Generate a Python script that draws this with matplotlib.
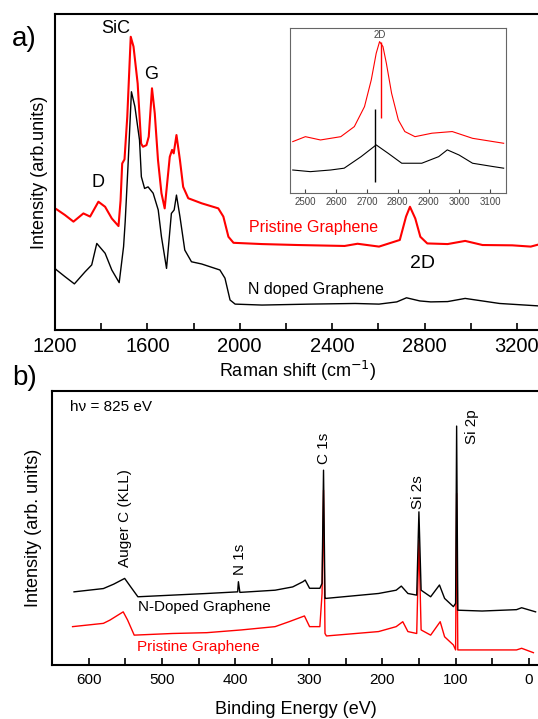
import matplotlib
matplotlib.use('Agg')
import matplotlib.pyplot as plt
from matplotlib.ticker import MultipleLocator

plt.rcParams['font.family'] = ['Liberation Sans', 'DejaVu Sans']

# a) Raman spectra (intensity in % of panel height)
raman_pg_x = [1200, 1207, 1243, 1280, 1323, 1352, 1388, 1417, 1446, 1475, 1484, 1491, 1501, 1513, 1528,
              1540, 1558, 1573, 1581, 1596, 1606, 1620, 1632, 1646, 1661, 1675, 1697, 1707, 1714, 1726,
              1741, 1755, 1777, 1835, 1907, 1929, 1951, 1973, 2096, 2250, 2454, 2510, 2603, 2693, 2720,
              2737, 2760, 2782, 2812, 2900, 2976, 3051, 3180, 3260, 3301]
raman_pg_y = [38.5, 38.2, 36.4, 34.3, 36.9, 35.9, 40.6, 39.0, 35.3, 32.9, 41.0, 52.7, 54.0, 67.5, 92.8,
              89.7, 78.0, 59.0, 58.0, 58.5, 61.2, 76.5, 68.6, 53.8, 43.3, 38.5, 54.8, 57.0, 55.9, 61.7,
              53.8, 45.3, 41.7, 40.1, 38.5, 35.9, 29.5, 27.6, 27.2, 26.9, 26.6, 27.3, 26.4, 28.5, 35.9,
              39.0, 35.3, 29.5, 27.4, 27.2, 28.2, 26.9, 26.8, 26.4, 27.2]
raman_ng_x = [1200, 1207, 1243, 1284, 1330, 1359, 1381, 1417, 1446, 1478, 1497, 1504, 1516, 1531, 1546,
              1566, 1574, 1588, 1603, 1625, 1647, 1661, 1683, 1704, 1716, 1726, 1741, 1762, 1791, 1835,
              1914, 1936, 1958, 1980, 2096, 2304, 2500, 2603, 2680, 2722, 2780, 2827, 2900, 2976, 3125,
              3301]
raman_ng_y = [19.5, 19.0, 16.9, 14.6, 18.4, 20.6, 27.4, 24.3, 19.0, 15.0, 26.4, 34.3, 51.7, 75.4, 70.7,
              60.1, 48.5, 44.8, 45.3, 43.3, 38.0, 29.5, 19.5, 36.9, 38.0, 42.7, 35.9, 25.3, 21.6, 20.9,
              19.0, 16.4, 9.5, 8.2, 7.9, 8.2, 8.4, 8.2, 8.9, 10.2, 9.2, 8.9, 9.0, 10.0, 8.4, 7.6]

# inset: 2D band
inset_pg_x = [2459, 2500, 2549, 2615, 2659, 2692, 2714, 2730, 2741, 2752, 2763, 2780, 2802, 2823, 2856,
              2911, 2977, 3043, 3144]
inset_pg_y = [31.3, 34.3, 32.3, 34.3, 40.4, 52.5, 68.7, 84.8, 91.9, 88.9, 78.8, 60.6, 44.4, 37.4, 34.3,
              36.4, 37.4, 33.3, 30.3]
inset_ng_x = [2459, 2516, 2582, 2626, 2681, 2730, 2769, 2813, 2878, 2933, 2961, 2999, 3043, 3109, 3144]
inset_ng_y = [14.1, 13.1, 14.1, 15.2, 22.2, 29.3, 24.2, 18.2, 18.2, 22.2, 26.3, 23.2, 18.2, 16.2, 15.2]
inset_pg_mark = [2747, 45.5, 91.9]
inset_ng_mark = [2725, 7.1, 50.9]

# b) XPS survey
xps_ng_x = [620, 580, 566, 551, 543, 533, 486, 439, 397, 396, 394, 346, 322, 308, 305, 299, 285, 282,
            280, 278, 277, 205, 181, 174, 165, 153, 150, 147, 134, 122, 115, 103, 100, 98.6, 97, 64,
            17, 10, -9]
xps_ng_y = [26.7, 27.9, 29.5, 31.6, 28.6, 24.9, 25.5, 26.1, 26.7, 30.4, 26.5, 27.3, 28.5, 30.4, 31.0,
            28.0, 28.0, 29.8, 71.1, 24.3, 24.3, 26.1, 27.3, 28.8, 26.1, 25.5, 55.9, 27.3, 24.9, 29.2,
            24.3, 21.3, 22.5, 87.2, 20.0, 19.7, 20.2, 20.9, 19.4]
xps_pg_x = [622, 580, 571, 553, 547, 538, 486, 439, 392, 346, 327, 306, 299, 285, 282, 280, 278, 276,
            205, 181, 172, 165, 153, 150, 147, 134, 121, 115, 103, 100, 98.6, 97, 92, 17, 10, -6]
xps_pg_y = [14.0, 15.2, 16.4, 19.4, 16.4, 10.9, 11.5, 11.8, 12.8, 14.0, 15.8, 17.9, 14.0, 14.0, 26.1,
            63.8, 11.5, 10.6, 12.2, 14.0, 15.8, 12.2, 11.5, 45.6, 12.8, 10.9, 15.8, 10.3, 7.3, 5.5,
            62.6, 5.5, 5.5, 5.5, 6.1, 4.5]


def main():
	fig = plt.figure(figsize=(5.38, 7.19), dpi=100)

	# ---- a) Raman ----
	ax = fig.add_axes([0.1022, 0.541, 0.9015, 0.4395])
	ax.plot(raman_pg_x, raman_pg_y, color='red', lw=1.5)
	ax.plot(raman_ng_x, raman_ng_y, color='black', lw=1.0)
	ax.set_xlim(1200, 3300)
	ax.set_ylim(0, 100)
	ax.xaxis.set_major_locator(MultipleLocator(400))
	ax.xaxis.set_minor_locator(MultipleLocator(200))
	ax.tick_params(axis='x', which='both', direction='in', length=5, width=1.2, labelsize=14.5, pad=5)
	ax.set_yticks([])
	for s in ax.spines.values():
		s.set_linewidth(1.5)
	ax.set_xlabel('Raman shift (cm$^{-1}$)', fontsize=13, labelpad=2)
	ax.set_ylabel('Intensity (arb.units)', fontsize=13, labelpad=5)

	ax.text(1461, 95.5, 'SiC', fontsize=13, ha='center', va='center')
	ax.text(1618, 81, 'G', fontsize=13, ha='center', va='center')
	ax.text(1387, 46.6, 'D', fontsize=13, ha='center', va='center')
	ax.text(2790, 21, '2D', fontsize=14, ha='center', va='center')
	ax.text(2319, 32.4, 'Pristine Graphene', fontsize=11.5, color='red', ha='center', va='center')
	ax.text(2328, 12.7, 'N doped Graphene', fontsize=11.5, color='black', ha='center', va='center')

	# inset
	ins = fig.add_axes([0.539, 0.7312, 0.4006, 0.2295])
	ins.plot(inset_pg_x, inset_pg_y, color='red', lw=0.8)
	ins.plot(inset_ng_x, inset_ng_y, color='black', lw=0.8)
	ins.vlines(inset_pg_mark[0], inset_pg_mark[1], inset_pg_mark[2], color='red', lw=1.0)
	ins.vlines(inset_ng_mark[0], inset_ng_mark[1], inset_ng_mark[2], color='black', lw=1.0)
	ins.set_xlim(2450, 3150)
	ins.set_ylim(0, 100)
	ins.set_xticks([2500, 2600, 2700, 2800, 2900, 3000, 3100])
	ins.set_yticks([])
	ins.tick_params(axis='x', direction='in', length=3, labelsize=7, colors='#444444', pad=3)
	for s in ins.spines.values():
		s.set_color('#666666')
		s.set_linewidth(0.8)
	ins.text(2741, 95.9, '2D', fontsize=7, color='#444444', ha='center', va='center')

	# ---- b) XPS ----
	bx = fig.add_axes([0.0967, 0.0751, 0.907, 0.3811])
	bx.plot(xps_pg_x, xps_pg_y, color='red', lw=1.0)
	bx.plot(xps_ng_x, xps_ng_y, color='black', lw=1.0)
	bx.set_xlim(650, -15)
	bx.set_ylim(0, 100)
	bx.xaxis.set_major_locator(MultipleLocator(100))
	bx.xaxis.set_minor_locator(MultipleLocator(50))
	bx.tick_params(axis='x', which='both', direction='in', length=5, width=1.2, labelsize=11, pad=5.5)
	bx.set_yticks([])
	for s in bx.spines.values():
		s.set_linewidth(1.5)
	bx.set_xlabel('Binding Energy (eV)', fontsize=13, labelpad=10)
	bx.set_ylabel('Intensity (arb. units)', fontsize=13, labelpad=7)

	bx.text(625, 94, 'h\u03bd = 825 eV', fontsize=11, ha='left', va='center')
	bx.text(550, 35.8, 'Auger C (KLL)', fontsize=11, rotation=90, ha='center', va='bottom')
	bx.text(394, 32.8, 'N 1s', fontsize=11, rotation=90, ha='center', va='bottom')
	bx.text(280, 73.3, 'C 1s', fontsize=11, rotation=90, ha='center', va='bottom')
	bx.text(151, 57.1, 'Si 2s', fontsize=11, rotation=90, ha='center', va='bottom')
	bx.text(78, 80.8, 'Si 2p', fontsize=11, rotation=90, ha='center', va='bottom')
	bx.text(442, 21, 'N-Doped Graphene', fontsize=11, color='black', ha='center', va='center')
	bx.text(450, 6.7, 'Pristine Graphene', fontsize=11, color='red', ha='center', va='center')

	fig.text(0.022, 0.9458, 'a)', fontsize=20, ha='left', va='center')
	fig.text(0.022, 0.474, 'b)', fontsize=20, ha='left', va='center')

	fig.savefig('out.png', dpi=100)
	return

main()
